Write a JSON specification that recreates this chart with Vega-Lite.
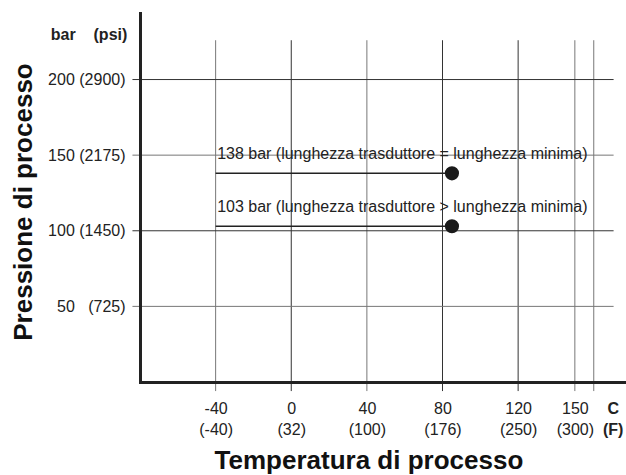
{
  "$schema": "https://vega.github.io/schema/vega-lite/v6.json",
  "width": 484,
  "height": 369,
  "autosize": {"type": "none"},
  "padding": {"left": 140, "top": 13, "right": 2, "bottom": 93},
  "background": "white",
  "config": {"view": {"stroke": null}, "font": "Liberation Sans"},
  "datasets": {
    "vDark": [{"temp": 0}, {"temp": 80}, {"temp": 120}],
    "vLight": [{"temp": -40}, {"temp": 40}, {"temp": 150}, {"temp": 160}],
    "hDark": [{"pressure": 100}, {"pressure": 200}],
    "hLight": [{"pressure": 50}, {"pressure": 150}],
    "header": [{"label": "bar\u00a0\u00a0\u00a0\u00a0(psi)"}],
    "limits": [
      {"temp": 85, "pressure": 138, "label": "138 bar (lunghezza trasduttore = lunghezza minima)"},
      {"temp": 85, "pressure": 103, "label": "103 bar (lunghezza trasduttore > lunghezza minima)"}
    ]
  },
  "layer": [
    {
      "data": {"name": "vLight"},
      "mark": {"type": "rule", "color": "#777", "strokeWidth": 1},
      "encoding": {
        "x": {
          "field": "temp",
          "type": "quantitative",
          "scale": {"domain": [-80, 176], "nice": false, "zero": false},
          "axis": {
            "values": [-40, 0, 40, 80, 120, 150, 170],
            "labelExpr": "datum.value == 170 ? ['C','(F)'] : datum.value == -40 ? ['-40','(-40)'] : datum.value == 0 ? ['0','(32)'] : datum.value == 40 ? ['40','(100)'] : datum.value == 80 ? ['80','(176)'] : datum.value == 120 ? ['120','(250)'] : datum.value == 150 ? ['150','(300)'] : ''",
            "ticks": false,
            "tickSize": 0,
            "grid": false,
            "domainWidth": 3,
            "domainColor": "#222",
            "domainCap": "square",
            "labelPadding": 18,
            "labelBaseline": "top",
            "labelAlign": "center",
            "labelFont": "Liberation Sans",
            "labelFontSize": 16,
            "labelLineHeight": 21,
            "labelColor": "#222",
            "labelFontWeight": {"condition": {"test": "datum.value == 170", "value": "bold"}, "value": "normal"},
            "labelFlush": false,
            "labelOverlap": false,
            "title": "Temperatura di processo",
            "titleFont": "Liberation Sans",
            "titleFontSize": 26,
            "titleFontWeight": "bold",
            "titleColor": "#111",
            "titleX": 228.4,
            "titleY": 86,
            "titleAlign": "center",
            "titleBaseline": "alphabetic",
            "zindex": 1
          }
        },
        "y": {
          "datum": -6,
          "type": "quantitative",
          "scale": {"domain": [0, 244], "nice": false, "zero": false},
          "axis": {
            "values": [50, 100, 150, 200],
            "labelExpr": "datum.value == 200 ? '200 (2900)' : datum.value == 150 ? '150 (2175)' : datum.value == 100 ? '100 (1450)' : '50\u00a0\u00a0\u00a0(725)'",
            "ticks": false,
            "tickSize": 0,
            "grid": false,
            "domainWidth": 3,
            "domainColor": "#222",
            "domainCap": "square",
            "labelPadding": 15,
            "labelBaseline": "middle",
            "labelAlign": "right",
            "labelFont": "Liberation Sans",
            "labelFontSize": 16,
            "labelColor": "#222",
            "labelOverlap": false,
            "title": "Pressione di processo",
            "titleFont": "Liberation Sans",
            "titleFontSize": 26,
            "titleFontWeight": "bold",
            "titleColor": "#111",
            "titleAngle": -90,
            "titleX": -108.3,
            "titleY": 188.5,
            "titleAlign": "center",
            "titleBaseline": "alphabetic",
            "zindex": 1
          }
        },
        "y2": {"datum": 226}
      }
    },
    {
      "data": {"name": "vDark"},
      "mark": {"type": "rule", "color": "#333", "strokeWidth": 1},
      "encoding": {
        "x": {"field": "temp", "type": "quantitative"},
        "y": {"datum": -6, "type": "quantitative"},
        "y2": {"datum": 226}
      }
    },
    {
      "data": {"name": "hLight"},
      "mark": {"type": "rule", "color": "#777", "strokeWidth": 1},
      "encoding": {
        "y": {"field": "pressure", "type": "quantitative"},
        "x": {"datum": -84, "type": "quantitative"},
        "x2": {"datum": 170.5}
      }
    },
    {
      "data": {"name": "hDark"},
      "mark": {"type": "rule", "color": "#333", "strokeWidth": 1},
      "encoding": {
        "y": {"field": "pressure", "type": "quantitative"},
        "x": {"datum": -84, "type": "quantitative"},
        "x2": {"datum": 170.5}
      }
    },
    {
      "data": {"name": "header"},
      "mark": {"type": "text", "align": "right", "baseline": "middle", "dx": -12.7, "font": "Liberation Sans", "fontSize": 16, "fontWeight": "bold", "color": "#222"},
      "encoding": {
        "x": {"datum": -80, "type": "quantitative"},
        "y": {"datum": 229.3, "type": "quantitative"},
        "text": {"field": "label"}
      }
    },
    {
      "data": {"name": "limits"},
      "mark": {"type": "text", "align": "left", "baseline": "middle", "dx": 1.5, "dy": -19.5, "font": "Liberation Sans", "fontSize": 16, "color": "#222"},
      "encoding": {
        "x": {"datum": -40, "type": "quantitative"},
        "y": {"field": "pressure", "type": "quantitative"},
        "text": {"field": "label"}
      }
    },
    {
      "data": {"name": "limits"},
      "mark": {"type": "rule", "color": "#222", "strokeWidth": 1.5},
      "encoding": {
        "x": {"field": "temp", "type": "quantitative"},
        "x2": {"datum": -40},
        "y": {"field": "pressure", "type": "quantitative"}
      }
    },
    {
      "data": {"name": "limits"},
      "mark": {"type": "point", "filled": true, "size": 200, "color": "#1a1a1a", "opacity": 1},
      "encoding": {
        "x": {"field": "temp", "type": "quantitative"},
        "y": {"field": "pressure", "type": "quantitative"}
      }
    }
  ]
}
